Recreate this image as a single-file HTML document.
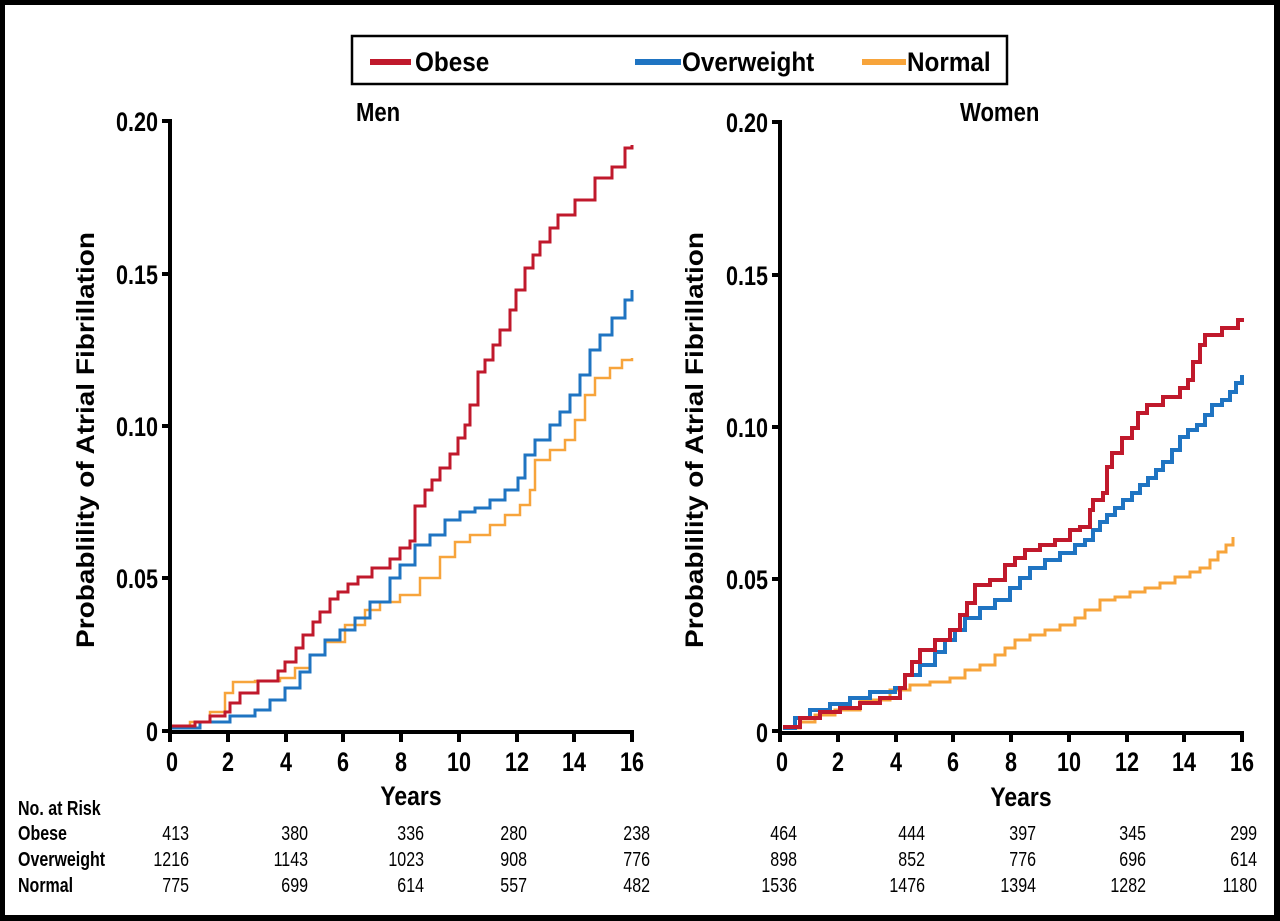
<!DOCTYPE html>
<html><head><meta charset="utf-8"><style>
html,body{margin:0;padding:0;background:#000}
svg{display:block}
text{font-family:"Liberation Sans",sans-serif}
</style></head><body>
<svg width="1280" height="921" viewBox="0 0 1280 921" xmlns="http://www.w3.org/2000/svg">
<rect x="0" y="0" width="1280" height="921" fill="#000"/>
<rect x="5" y="5" width="1269" height="910" fill="#fff"/>
<!-- legend -->
<rect x="352" y="36" width="655" height="48" fill="#fff" stroke="#000" stroke-width="2.5"/>
<line x1="370" y1="62" x2="411" y2="62" stroke="#c0192c" stroke-width="6"/>
<text transform="translate(415,71) scale(.9,1)" font-size="27" font-weight="bold">Obese</text>
<line x1="635" y1="62" x2="681" y2="62" stroke="#1f74c2" stroke-width="6"/>
<text transform="translate(682,71) scale(.9,1)" font-size="27" font-weight="bold">Overweight</text>
<line x1="862" y1="62" x2="906" y2="62" stroke="#f7a43b" stroke-width="6"/>
<text transform="translate(907,71) scale(.9,1)" font-size="27" font-weight="bold">Normal</text>
<!-- titles -->
<text transform="translate(356,121) scale(.85,1)" font-size="26" font-weight="bold">Men</text>
<text transform="translate(960,121) scale(.85,1)" font-size="26" font-weight="bold">Women</text>
<!-- y labels -->
<text transform="translate(94,440) rotate(-90)" font-size="25" font-weight="bold" text-anchor="middle" textLength="416" lengthAdjust="spacingAndGlyphs">Probablility of Atrial Fibrillation</text>
<text transform="translate(703,440) rotate(-90)" font-size="25" font-weight="bold" text-anchor="middle" textLength="416" lengthAdjust="spacingAndGlyphs">Probablility of Atrial Fibrillation</text>

<g stroke="#000" stroke-width="4" fill="none">
<path d="M170,119 V732 H634"/>
<path d="M162,121 H170 M162,274 H170 M162,426 H170 M162,578 H170 M162,731 H170"/>
<path d="M170,731 V742 M228,731 V742 M286,731 V742 M343,731 V742 M401,731 V742 M459,731 V742 M517,731 V742 M574,731 V742 M632,731 V742"/>
</g>
<g stroke="#000" stroke-width="4" fill="none">
<path d="M780,120 V733 H1244"/>
<path d="M772,122 H780 M772,275 H780 M772,427 H780 M772,579 H780 M772,731 H780"/>
<path d="M780,731 V742 M838,731 V742 M896,731 V742 M953,731 V742 M1011,731 V742 M1069,731 V742 M1127,731 V742 M1184,731 V742 M1242,731 V742"/>
</g>
<g font-size="27" font-weight="bold" text-anchor="end">
<text transform="translate(158,131) scale(.8,1)">0.20</text>
<text transform="translate(158,284) scale(.8,1)">0.15</text>
<text transform="translate(158,436) scale(.8,1)">0.10</text>
<text transform="translate(158,588) scale(.8,1)">0.05</text>
<text transform="translate(158,741) scale(.8,1)">0</text>
<text transform="translate(768,132) scale(.8,1)">0.20</text>
<text transform="translate(768,285) scale(.8,1)">0.15</text>
<text transform="translate(768,437) scale(.8,1)">0.10</text>
<text transform="translate(768,589) scale(.8,1)">0.05</text>
<text transform="translate(768,742) scale(.8,1)">0</text>
</g>
<g font-size="27" font-weight="bold" text-anchor="middle">
<text transform="translate(172,771) scale(.8,1)">0</text>
<text transform="translate(228,771) scale(.8,1)">2</text>
<text transform="translate(286,771) scale(.8,1)">4</text>
<text transform="translate(343,771) scale(.8,1)">6</text>
<text transform="translate(401,771) scale(.8,1)">8</text>
<text transform="translate(459,771) scale(.8,1)">10</text>
<text transform="translate(517,771) scale(.8,1)">12</text>
<text transform="translate(574,771) scale(.8,1)">14</text>
<text transform="translate(632,771) scale(.8,1)">16</text>
<text transform="translate(782,771) scale(.8,1)">0</text>
<text transform="translate(838,771) scale(.8,1)">2</text>
<text transform="translate(896,771) scale(.8,1)">4</text>
<text transform="translate(953,771) scale(.8,1)">6</text>
<text transform="translate(1011,771) scale(.8,1)">8</text>
<text transform="translate(1069,771) scale(.8,1)">10</text>
<text transform="translate(1127,771) scale(.8,1)">12</text>
<text transform="translate(1184,771) scale(.8,1)">14</text>
<text transform="translate(1242,771) scale(.8,1)">16</text>
<text transform="translate(411,805) scale(.85,1)">Years</text>
<text transform="translate(1021,806) scale(.85,1)">Years</text>
</g>

<!-- curves -->
<g fill="none" stroke-linejoin="miter">
<polyline stroke="#f7a43b" stroke-width="2.5" points="172,728 190,728 190,722 210,722 210,712 225,712 225,693 233,693 233,682 255,682 255,681 280,681 280,678 295,678 295,668 310,668 310,655 325,655 325,642 345,642 345,625 365,625 365,610 380,610 380,602 400,602 400,595 420,595 420,578 440,578 440,557 455,557 455,542 470,542 470,535 490,535 490,525 505,525 505,515 520,515 520,505 530,505 530,490 535,490 535,460 550,460 550,450 565,450 565,440 575,440 575,420 585,420 585,395 595,395 595,378 610,378 610,368 622,368 622,360 632,360 632,358"/>
<polyline stroke="#1f74c2" stroke-width="3" points="172,728 200,728 200,722 230,722 230,716 255,716 255,710 270,710 270,700 285,700 285,688 300,688 300,672 310,672 310,655 325,655 325,640 340,640 340,630 355,630 355,618 370,618 370,602 390,602 390,578 400,578 400,565 415,565 415,545 430,545 430,535 445,535 445,520 460,520 460,512 475,512 475,508 490,508 490,500 505,500 505,490 518,490 518,478 525,478 525,455 535,455 535,440 550,440 550,425 560,425 560,412 570,412 570,395 580,395 580,375 590,375 590,350 600,350 600,335 612,335 612,318 625,318 625,300 632,300 632,290"/>
<polyline stroke="#c0192c" stroke-width="3" points="172,726 195,726 195,722 210,722 210,716 225,716 225,712 230,712 230,703 240,703 240,693 258,693 258,681 278,681 278,671 285,671 285,662 296,662 296,648 303,648 303,635 313,635 313,622 320,622 320,612 330,612 330,599 338,599 338,592 348,592 348,584 358,584 358,577 372,577 372,568 390,568 390,559 400,559 400,548 410,548 410,541 415,541 415,506 425,506 425,490 432,490 432,480 440,480 440,468 450,468 450,454 458,454 458,438 465,438 465,425 470,425 470,405 478,405 478,372 485,372 485,360 493,360 493,345 500,345 500,330 510,330 510,310 516,310 516,290 525,290 525,268 533,268 533,255 540,255 540,242 550,242 550,228 558,228 558,215 575,215 575,200 595,200 595,178 612,178 612,167 625,167 625,148 632,148 632,145"/>

<polyline stroke="#f7a43b" stroke-width="3" points="783,728 800,728 800,722 815,722 815,715 835,715 835,710 860,710 860,700 890,700 890,690 910,690 910,685 930,685 930,682 950,682 950,678 965,678 965,670 980,670 980,665 995,665 995,655 1005,655 1005,648 1015,648 1015,640 1030,640 1030,635 1045,635 1045,630 1060,630 1060,625 1075,625 1075,618 1085,618 1085,610 1100,610 1100,600 1115,600 1115,597 1130,597 1130,592 1145,592 1145,588 1160,588 1160,583 1175,583 1175,577 1190,577 1190,572 1200,572 1200,568 1210,568 1210,560 1218,560 1218,552 1226,552 1226,545 1233,545 1233,537"/>
<polyline stroke="#1f74c2" stroke-width="4" points="783,728 795,728 795,718 810,718 810,710 830,710 830,704 850,704 850,698 870,698 870,692 895,692 895,688 905,688 905,675 920,675 920,665 935,665 935,652 945,652 945,640 955,640 955,630 965,630 965,618 980,618 980,608 995,608 995,600 1010,600 1010,588 1020,588 1020,578 1030,578 1030,568 1045,568 1045,560 1060,560 1060,553 1075,553 1075,545 1085,545 1085,540 1093,540 1093,530 1100,530 1100,522 1107,522 1107,515 1115,515 1115,508 1123,508 1123,500 1132,500 1132,493 1140,493 1140,485 1148,485 1148,478 1156,478 1156,470 1163,470 1163,462 1172,462 1172,450 1180,450 1180,437 1188,437 1188,430 1197,430 1197,425 1205,425 1205,415 1212,415 1212,405 1222,405 1222,400 1230,400 1230,392 1236,392 1236,383 1242,383 1242,375"/>
<polyline stroke="#c0192c" stroke-width="4" points="783,727 800,727 800,718 820,718 820,712 840,712 840,708 860,708 860,703 880,703 880,698 900,698 900,688 905,688 905,675 912,675 912,662 920,662 920,650 935,650 935,640 950,640 950,630 960,630 960,615 967,615 967,603 975,603 975,585 990,585 990,580 1005,580 1005,565 1015,565 1015,558 1025,558 1025,550 1040,550 1040,545 1055,545 1055,540 1070,540 1070,530 1080,530 1080,527 1090,527 1090,510 1093,510 1093,500 1103,500 1103,493 1107,493 1107,467 1112,467 1112,453 1122,453 1122,438 1132,438 1132,428 1138,428 1138,413 1147,413 1147,405 1163,405 1163,397 1180,397 1180,388 1188,388 1188,380 1193,380 1193,362 1200,362 1200,345 1205,345 1205,335 1222,335 1222,328 1238,328 1238,320 1244,320"/>
</g>

<!-- risk table -->
<g font-size="20">
<text transform="translate(18,815) scale(.8,1)" font-weight="bold">No. at Risk</text>
<text transform="translate(18,840) scale(.8,1)" font-weight="bold">Obese</text>
<text transform="translate(18,866) scale(.8,1)" font-weight="bold">Overweight</text>
<text transform="translate(18,892) scale(.8,1)" font-weight="bold">Normal</text>
</g>
<g font-size="20" text-anchor="end">
<text transform="translate(189,840) scale(.8,1)">413</text>
<text transform="translate(308,840) scale(.8,1)">380</text>
<text transform="translate(424,840) scale(.8,1)">336</text>
<text transform="translate(527,840) scale(.8,1)">280</text>
<text transform="translate(650,840) scale(.8,1)">238</text>
<text transform="translate(189,866) scale(.8,1)">1216</text>
<text transform="translate(308,866) scale(.8,1)">1143</text>
<text transform="translate(424,866) scale(.8,1)">1023</text>
<text transform="translate(527,866) scale(.8,1)">908</text>
<text transform="translate(650,866) scale(.8,1)">776</text>
<text transform="translate(189,892) scale(.8,1)">775</text>
<text transform="translate(308,892) scale(.8,1)">699</text>
<text transform="translate(424,892) scale(.8,1)">614</text>
<text transform="translate(527,892) scale(.8,1)">557</text>
<text transform="translate(650,892) scale(.8,1)">482</text>
<text transform="translate(797,840) scale(.8,1)">464</text>
<text transform="translate(925,840) scale(.8,1)">444</text>
<text transform="translate(1036,840) scale(.8,1)">397</text>
<text transform="translate(1146,840) scale(.8,1)">345</text>
<text transform="translate(1257,840) scale(.8,1)">299</text>
<text transform="translate(797,866) scale(.8,1)">898</text>
<text transform="translate(925,866) scale(.8,1)">852</text>
<text transform="translate(1036,866) scale(.8,1)">776</text>
<text transform="translate(1146,866) scale(.8,1)">696</text>
<text transform="translate(1257,866) scale(.8,1)">614</text>
<text transform="translate(797,892) scale(.8,1)">1536</text>
<text transform="translate(925,892) scale(.8,1)">1476</text>
<text transform="translate(1036,892) scale(.8,1)">1394</text>
<text transform="translate(1146,892) scale(.8,1)">1282</text>
<text transform="translate(1257,892) scale(.8,1)">1180</text>
</g>
</svg>
</body></html>
